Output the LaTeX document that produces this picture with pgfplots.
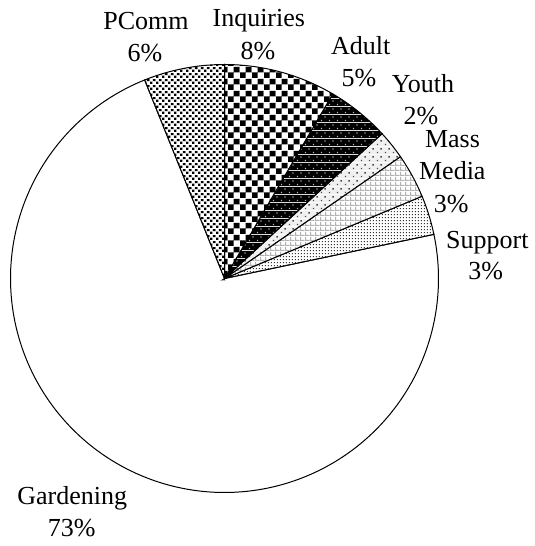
\documentclass[border=0pt]{standalone}
\usepackage{pgfplots}
\pgfplotsset{compat=1.18}
\usepackage{fontspec}
\setmainfont{Liberation Serif}
\usetikzlibrary{patterns}

% PComm: staggered black squares on white
\pgfdeclarepatterninherentlycolored{pcomm}{\pgfqpoint{0bp}{0bp}}{\pgfqpoint{6bp}{6bp}}{\pgfqpoint{6bp}{6bp}}{%
  \pgfsetfillcolor{white}\pgfpathrectangle{\pgfpointorigin}{\pgfqpoint{6bp}{6bp}}\pgfusepath{fill}%
  \pgfsetfillcolor{black}%
  \pgfpathrectangle{\pgfqpoint{0.2bp}{0.2bp}}{\pgfqpoint{2.6bp}{2.6bp}}%
  \pgfpathrectangle{\pgfqpoint{3.2bp}{3.2bp}}{\pgfqpoint{2.6bp}{2.6bp}}%
  \pgfusepath{fill}}
% Inquiries: checkerboard
\pgfdeclarepatterninherentlycolored{inq}{\pgfqpoint{0bp}{0bp}}{\pgfqpoint{12bp}{12bp}}{\pgfqpoint{12bp}{12bp}}{%
  \pgfsetfillcolor{white}\pgfpathrectangle{\pgfpointorigin}{\pgfqpoint{12bp}{12bp}}\pgfusepath{fill}%
  \pgfsetfillcolor{black}%
  \pgfpathrectangle{\pgfqpoint{0bp}{0bp}}{\pgfqpoint{6bp}{6bp}}%
  \pgfpathrectangle{\pgfqpoint{6bp}{6bp}}{\pgfqpoint{6bp}{6bp}}%
  \pgfusepath{fill}}
% Adult: black with light dots
\pgfdeclarepatterninherentlycolored{adult}{\pgfqpoint{0bp}{0bp}}{\pgfqpoint{8bp}{8bp}}{\pgfqpoint{8bp}{8bp}}{%
  \pgfsetfillcolor{black}\pgfpathrectangle{\pgfpointorigin}{\pgfqpoint{8bp}{8bp}}\pgfusepath{fill}%
  \pgfsetfillcolor{black!30}%
  \pgfpathrectangle{\pgfqpoint{1bp}{1bp}}{\pgfqpoint{1.3bp}{1.3bp}}%
  \pgfpathrectangle{\pgfqpoint{5bp}{5bp}}{\pgfqpoint{1.3bp}{1.3bp}}%
  \pgfusepath{fill}}
% Youth: light grey with dark dots
\pgfdeclarepatterninherentlycolored{youth}{\pgfqpoint{0bp}{0bp}}{\pgfqpoint{8bp}{8bp}}{\pgfqpoint{8bp}{8bp}}{%
  \pgfsetfillcolor{black!6}\pgfpathrectangle{\pgfpointorigin}{\pgfqpoint{8bp}{8bp}}\pgfusepath{fill}%
  \pgfsetfillcolor{black!70}%
  \pgfpathrectangle{\pgfqpoint{1bp}{1bp}}{\pgfqpoint{1.5bp}{1.5bp}}%
  \pgfpathrectangle{\pgfqpoint{5bp}{5bp}}{\pgfqpoint{1.5bp}{1.5bp}}%
  \pgfusepath{fill}}
% Mass Media: grey grid
\pgfdeclarepatterninherentlycolored{mass}{\pgfqpoint{0bp}{0bp}}{\pgfqpoint{5bp}{5bp}}{\pgfqpoint{5bp}{5bp}}{%
  \pgfsetfillcolor{white}\pgfpathrectangle{\pgfpointorigin}{\pgfqpoint{5bp}{5bp}}\pgfusepath{fill}%
  \pgfsetfillcolor{black!30}%
  \pgfpathrectangle{\pgfqpoint{0bp}{0bp}}{\pgfqpoint{5bp}{1.4bp}}%
  \pgfpathrectangle{\pgfqpoint{0bp}{0bp}}{\pgfqpoint{1.4bp}{5bp}}%
  \pgfusepath{fill}}
% Support: dense fine dots
\pgfdeclarepatterninherentlycolored{support}{\pgfqpoint{0bp}{0bp}}{\pgfqpoint{3bp}{3bp}}{\pgfqpoint{3bp}{3bp}}{%
  \pgfsetfillcolor{white}\pgfpathrectangle{\pgfpointorigin}{\pgfqpoint{3bp}{3bp}}\pgfusepath{fill}%
  \pgfsetfillcolor{black!80}%
  \pgfpathrectangle{\pgfqpoint{1bp}{1bp}}{\pgfqpoint{1.4bp}{1.4bp}}%
  \pgfusepath{fill}}

\begin{document}
\begin{tikzpicture}
\begin{axis}[
  scale only axis, width=535bp, height=546bp,
  xmin=0, xmax=535, ymin=-546, ymax=0,
  hide axis, clip=false,
  every axis plot/.append style={draw=black, line width=1bp, variable=\t, mark=none},
]
\path (axis cs:0,0) rectangle (axis cs:535,-546);
% slices: angles (degrees, counter-clockwise) of each slice, centre (224.5,-278.5), radius 214
\addplot[fill=white, domain=-248.1:11.9, samples=180]
  ({224.5+214*cos(t)},{-278.5+214*sin(t)}) -- (axis cs:224.5,-278.5) -- cycle;   % Gardening
\addplot[pattern=support, domain=11.9:22.6, samples=12]
  ({224.5+214*cos(t)},{-278.5+214*sin(t)}) -- (axis cs:224.5,-278.5) -- cycle;   % Support
\addplot[pattern=mass, domain=22.6:34.7, samples=12]
  ({224.5+214*cos(t)},{-278.5+214*sin(t)}) -- (axis cs:224.5,-278.5) -- cycle;   % Mass Media
\addplot[pattern=youth, domain=34.7:42.6, samples=10]
  ({224.5+214*cos(t)},{-278.5+214*sin(t)}) -- (axis cs:224.5,-278.5) -- cycle;   % Youth
\addplot[pattern=adult, domain=42.6:59.6, samples=16]
  ({224.5+214*cos(t)},{-278.5+214*sin(t)}) -- (axis cs:224.5,-278.5) -- cycle;   % Adult
\addplot[pattern=inq, domain=59.6:90, samples=24]
  ({224.5+214*cos(t)},{-278.5+214*sin(t)}) -- (axis cs:224.5,-278.5) -- cycle;   % Inquiries
\addplot[pattern=pcomm, domain=90:111.9, samples=20]
  ({224.5+214*cos(t)},{-278.5+214*sin(t)}) -- (axis cs:224.5,-278.5) -- cycle;   % PComm

\begin{scope}[every node/.style={anchor=base, inner sep=0pt, font=\fontsize{26bp}{32bp}\selectfont}]
\node at (axis cs:146,-29.3) {PComm};
\node at (axis cs:145,-61.7) {6\%};
\node at (axis cs:258.8,-26.7) {Inquiries};
\node at (axis cs:258,-59.3) {8\%};
\node at (axis cs:360.8,-54.3) {Adult};
\node at (axis cs:359,-86.7) {5\%};
\node at (axis cs:423,-92.7) {Youth};
\node at (axis cs:421,-125) {2\%};
\node at (axis cs:452.5,-147.7) {Mass};
\node at (axis cs:452.3,-180) {Media};
\node at (axis cs:451.3,-212.3) {3\%};
\node at (axis cs:487.3,-248.3) {Support};
\node at (axis cs:485.8,-280) {3\%};
\node at (axis cs:72.2,-505) {Gardening};
\node at (axis cs:71.7,-536.7) {73\%};
\end{scope}
\end{axis}
\end{tikzpicture}
\end{document}
